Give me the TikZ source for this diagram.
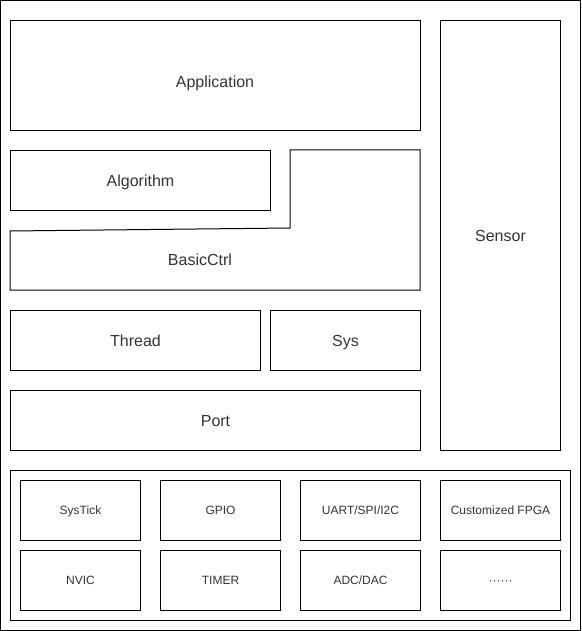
\documentclass[tikz,border=0pt]{standalone}
\usepackage{fontspec}
\setmainfont{Liberation Sans}
\definecolor{labelgray}{HTML}{333333}
\tikzset{
  layer/.style={draw, line width=1pt, inner sep=0pt, anchor=north west,
    text=labelgray, font=\fontsize{16}{19}\selectfont,
    text height=11.5pt, text depth=0pt},
  caption/.style={text=labelgray, font=\fontsize{16}{19}\selectfont,
    inner sep=0pt, text height=11.5pt, text depth=0pt},
  periph/.style={layer, minimum width=120pt, minimum height=60pt,
    font=\fontsize{12}{14}\selectfont, text height=8.6pt},
}
\begin{document}
\begin{tikzpicture}[x=1pt, y=-1pt]
      \useasboundingbox (0,0) rectangle (581,631);
      \draw[line width=1pt] (0.5,0.5) rectangle (580,630);
      % software layers
      \node[layer, minimum width=410pt, minimum height=110pt] (app) at (10,20) {};
      \node[caption] (apptext) at (215,82) {Application};
      \node[layer, minimum width=260pt, minimum height=60pt] (algo) at (10,150) {Algorithm};
      \draw[line width=1pt] (10,231) -- (290,228) -- (290,150) -- (420,150)
        -- (420,290) -- (10,290) -- cycle;
      \node[caption] (ctrl) at (200,260) {BasicCtrl};
      \node[layer, minimum width=250pt, minimum height=60pt] (thread) at (10,310) {Thread};
      \node[layer, minimum width=150pt, minimum height=60pt] (sys) at (270,310) {Sys};
      \node[layer, minimum width=410pt, minimum height=60pt] (port) at (10,390) {Port};
      \node[layer, minimum width=120pt, minimum height=430pt] (sensor) at (440,20) {Sensor};
      % hardware
      \node[layer, minimum width=560pt, minimum height=150pt] (hw) at (10,470) {};
      \node[periph] (systick) at (20,480) {SysTick};
      \node[periph] (gpio) at (160,480) {GPIO};
      \node[periph] (uart) at (300,480) {UART/SPI/I2C};
      \node[periph] (fpga) at (440,480) {Customized FPGA};
      \node[periph] (nvic) at (20,550) {NVIC};
      \node[periph] (timer) at (160,550) {TIMER};
      \node[periph] (adc) at (300,550) {ADC/DAC};
      \node[periph] (more) at (440,550) {\textperiodcentered\textperiodcentered\textperiodcentered\textperiodcentered\textperiodcentered\textperiodcentered};
\end{tikzpicture}
\end{document}
